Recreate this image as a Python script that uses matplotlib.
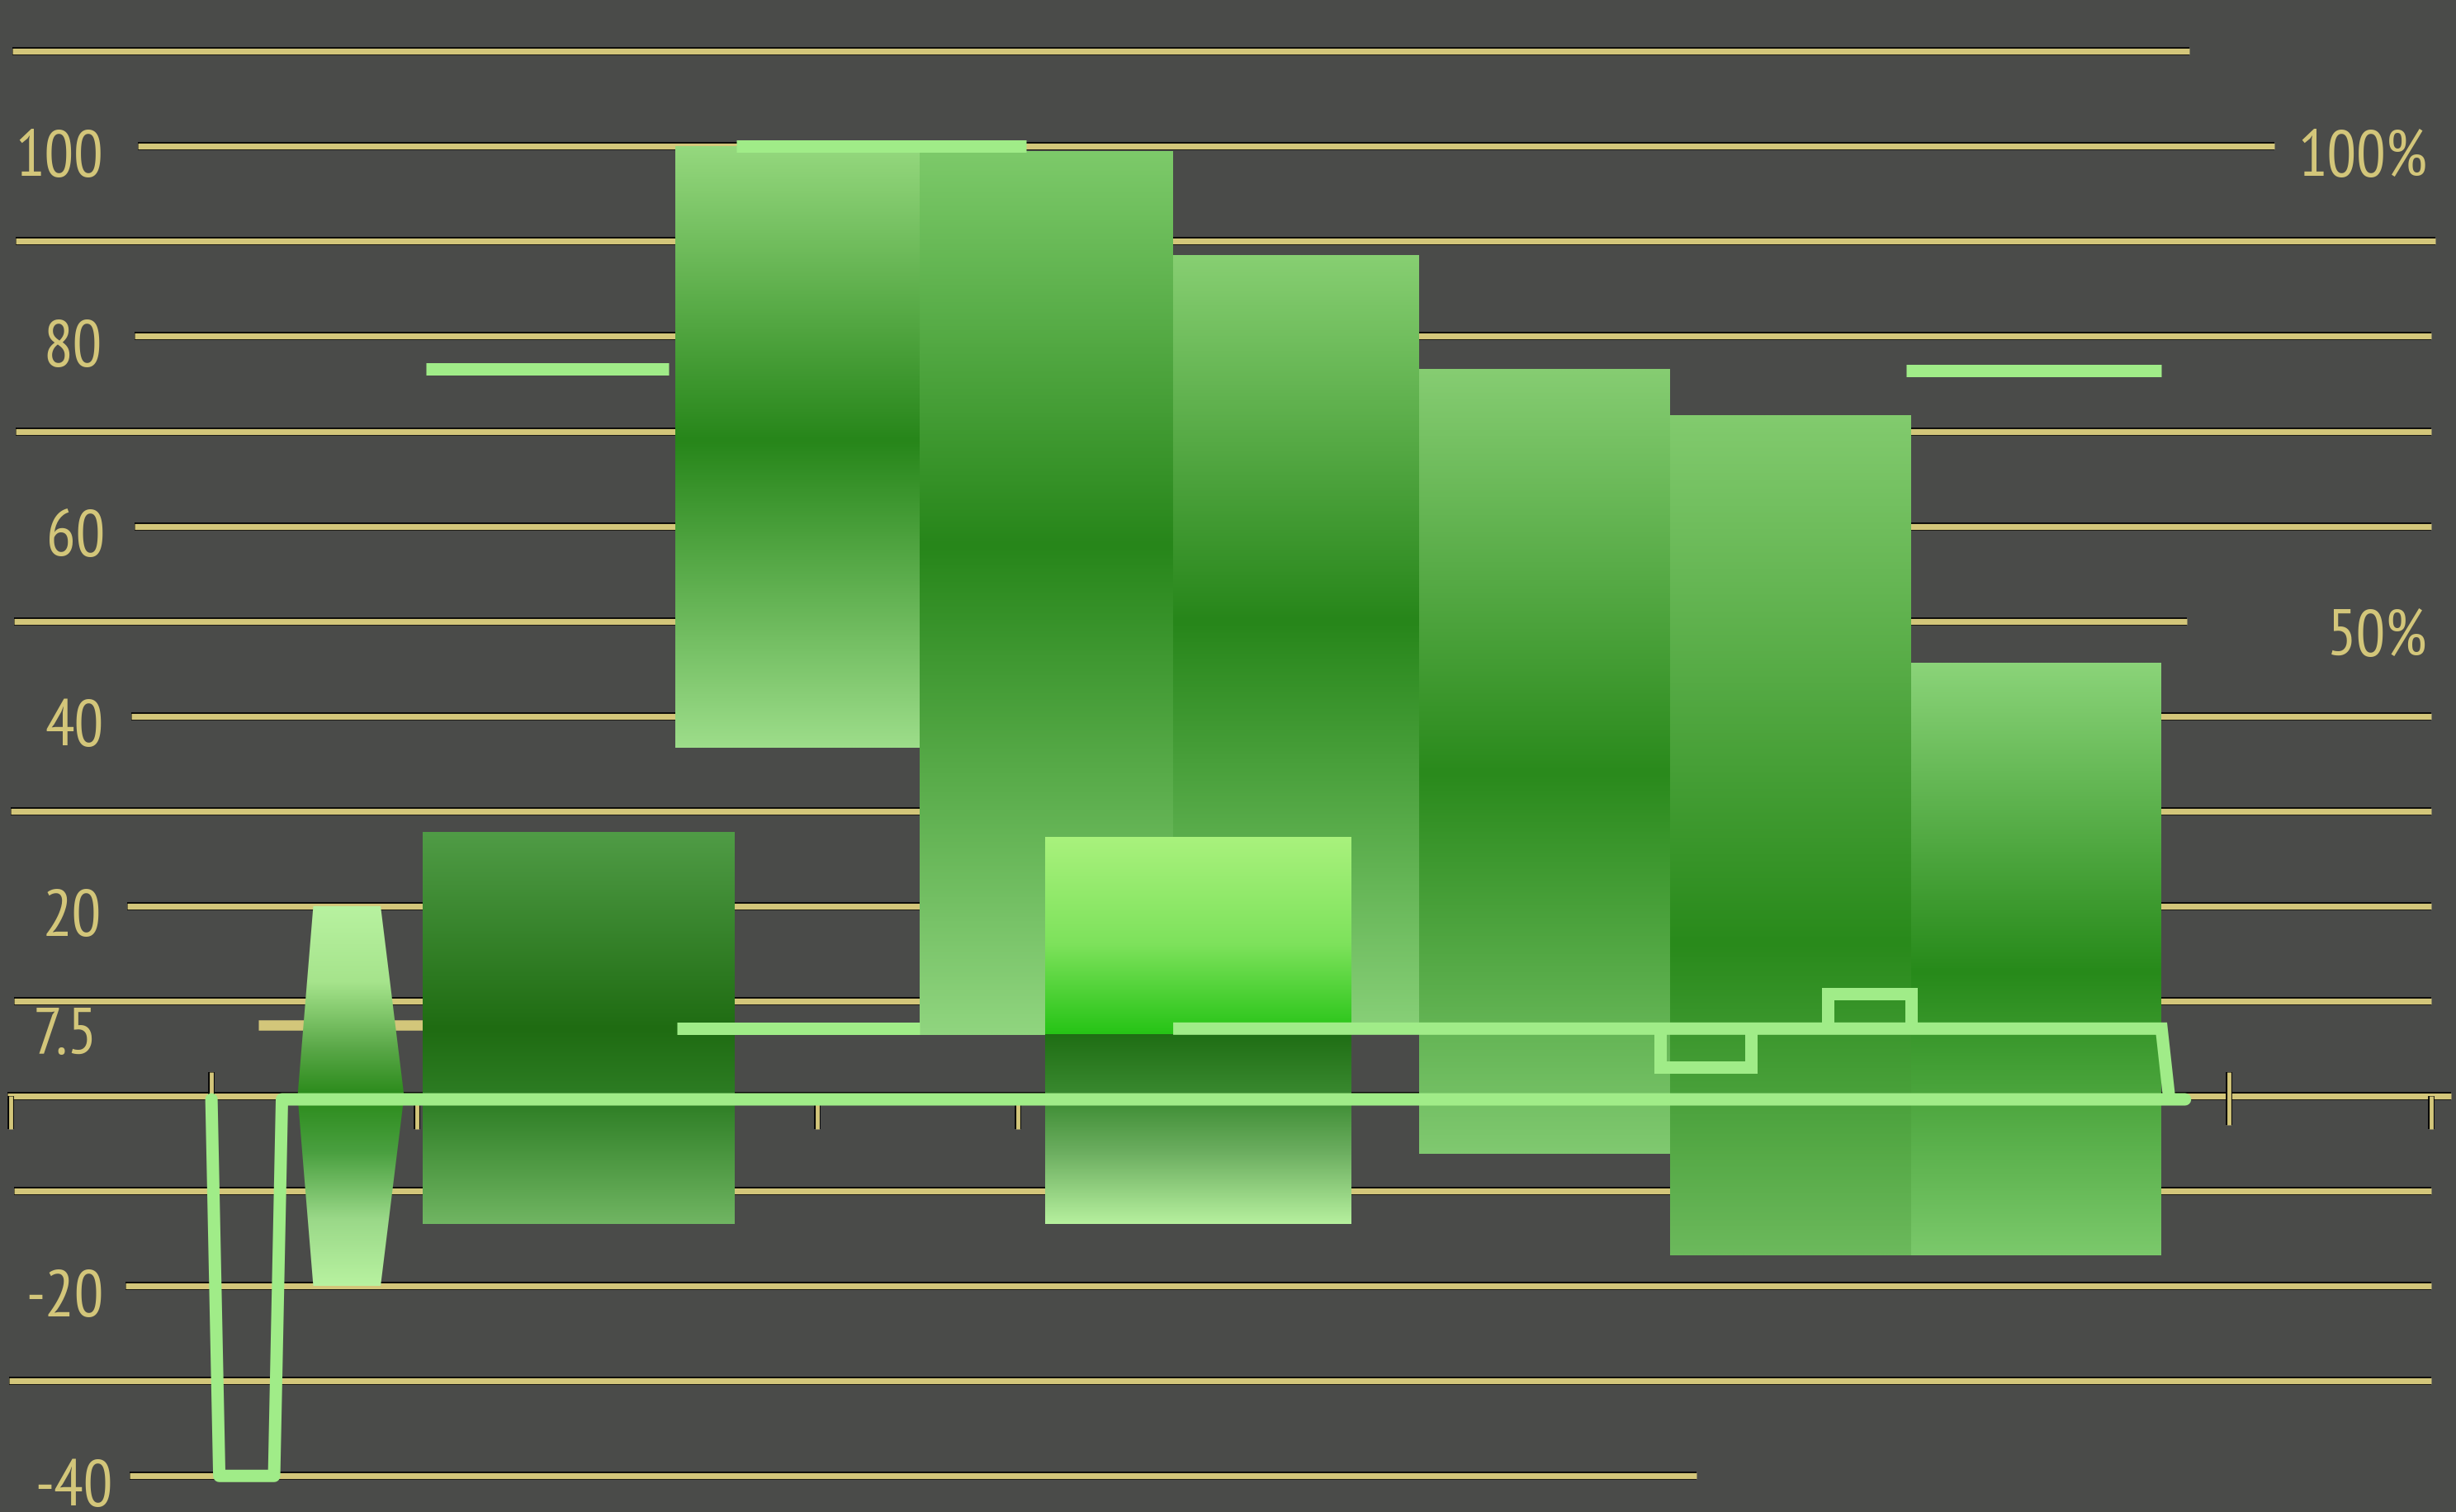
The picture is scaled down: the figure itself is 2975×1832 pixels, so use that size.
import matplotlib
matplotlib.use("Agg")
import matplotlib.pyplot as plt
import numpy as np
from matplotlib.colors import LinearSegmentedColormap, to_rgb
from matplotlib.patches import Polygon
import matplotlib.patheffects as pe

# ---------------- data ----------------
grid_values = [110, 100, 90, 80, 70, 60, 50, 40, 30, 20, 10, 0, -10, -20, -30, -40]
grid_start = [0.08, 0.88, 0.10, 0.86, 0.10, 0.86, 0.09, 0.84, 0.07, 0.81, 0.09, 0.05, 0.09, 0.80, 0.06, 0.83]
grid_end = [13.98, 14.52, 15.55, 15.52, 15.52, 15.52, 13.96, 15.52, 15.52, 15.52, 15.52, 15.65, 15.52, 15.52, 15.52, 10.83]

left_labels = ["100", "80", "60", "40", "20", "7.5", "-20", "-40"]
left_label_values = [100, 80, 60, 40, 20, 7.5, -20, -40]
left_label_right = [0.66, 0.65, 0.67, 0.66, 0.65, 0.62, 0.66, 0.72]
right_labels = ["100%", "50%"]
right_label_values = [100, 49.5]

# bars: left, right, top, bottom
bar_left = [2.70, 4.31, 5.87, 7.49, 9.06, 10.66, 12.20]
bar_right = [4.69, 5.87, 7.49, 9.06, 10.66, 12.20, 13.80]
bar_top = [27.8, 100.0, 99.5, 88.6, 76.6, 71.7, 45.6]
bar_bottom = [-13.5, 36.7, 6.4, 7.0, -6.1, -16.8, -16.8]
bar_stops = [
    [(27.8, "#509c46"), (7.0, "#1f6c12"), (-1.0, "#2f7f26"), (-13.5, "#70b562")],
    [(100.0, "#95d87e"), (69.0, "#27861a"), (36.7, "#9ddd8a")],
    [(99.5, "#7dca6a"), (58.0, "#27861a"), (6.4, "#90d57f")],
    [(88.6, "#87cf72"), (50.0, "#27861a"), (7.0, "#88d078")],
    [(76.6, "#86cd72"), (34.0, "#2a8a1c"), (-6.1, "#80c970")],
    [(71.7, "#82cb6e"), (16.0, "#298a1b"), (-16.8, "#6cb95c")],
    [(45.6, "#8bd479"), (13.0, "#278a1a"), (-16.8, "#7bc96b")],
]

# bright overlay bar (two pieces)
bright_left, bright_right = 6.67, 8.63
bright_top, bright_mid, bright_bottom = 27.3, 6.5, -13.5
bright_upper_stops = [(27.3, "#a9f27d"), (16.0, "#7ee25c"), (6.5, "#26c416")]
bright_lower_stops = [(6.5, "#1f6e14"), (0.0, "#3a8a30"), (-6.0, "#6cae60"), (-13.5, "#b6f09e")]

# spindle shape
spindle_x = [2.00, 2.43, 2.58, 2.43, 2.00, 1.90]
spindle_y = [20, 20, 0, -20, -20, 0]
spindle_stops = [(20, "#b8f2a0"), (12, "#a6e48c"), (5, "#5aa848"), (0, "#2a8a1a"),
                 (-6, "#4aa040"), (-13, "#9ad888"), (-20, "#b8f2a0")]

# green lines
main_line_x = [1.35, 1.40, 1.75, 1.80, 13.95]
main_line_y = [-0.35, -40, -40, -0.35, -0.35]
step_a_x = [4.32, 5.87]
step_a_y = [7.1, 7.1]
step_b_x = [7.49, 13.80, 13.85]
step_b_y = [7.1, 7.1, -0.35]
box_x0 = [10.60, 11.67]
box_x1 = [11.18, 12.20]
box_y0 = [7.1, 7.1]
box_y1 = [3.0, 10.8]
short_x0 = [2.72, 4.70, 12.17]
short_x1 = [4.27, 6.55, 13.80]
short_y = [76.6, 100.0, 76.4]

tan_seg_x = [1.65, 2.70]
tan_seg_y = 7.5

tick_x = [0.07, 1.35, 2.66, 5.22, 6.50, 14.23, 15.52]
tick_y0 = [0, 0, 0, 0, 0, -3.0, 0]
tick_y1 = [-3.5, 2.5, -3.5, -3.5, -3.5, 2.5, -3.5]

# ---------------- style ----------------
BG = "#4a4b49"
TAN = "#d3c67a"
LGREEN = "#a0ec88"

fig = plt.figure(figsize=(29.75, 18.33), dpi=100, facecolor=BG)
ax = fig.add_axes([0, 0, 1, 1])
ax.set_facecolor(BG)
ax.axis("off")

outline = [pe.Stroke(linewidth=7.0, foreground="black"), pe.Normal()]

for v, x0, x1 in zip(grid_values, grid_start, grid_end):
    ax.plot([x0, x1], [v, v], color=TAN, lw=5.2, solid_capstyle="butt",
            path_effects=outline, zorder=1)

for x, y0, y1 in zip(tick_x, tick_y0, tick_y1):
    ax.plot([x, x], [y0, y1], color=TAN, lw=3.5, solid_capstyle="butt",
            path_effects=[pe.Stroke(linewidth=5.5, foreground="black"), pe.Normal()], zorder=1.2)

ax.plot(tan_seg_x, [tan_seg_y, tan_seg_y], color=TAN, lw=9, solid_capstyle="butt", zorder=1.1)


def gradient_fill(xs, ys, stops, z):
    ymax, ymin = max(ys), min(ys)
    pos = [(ymax - v) / (ymax - ymin) for v, _ in stops]
    pos[0], pos[-1] = 0.0, 1.0
    cmap = LinearSegmentedColormap.from_list("g", [(p, to_rgb(c)) for p, (_, c) in zip(pos, stops)])
    grad = np.linspace(0, 1, 512).reshape(-1, 1)
    poly = Polygon(list(zip(xs, ys)), closed=True, facecolor="none", edgecolor="none")
    ax.add_patch(poly)
    im = ax.imshow(grad, cmap=cmap, aspect="auto", origin="upper",
                   extent=[min(xs), max(xs), ymin, ymax], zorder=z, interpolation="bilinear")
    im.set_clip_path(poly)


gradient_fill(spindle_x, spindle_y, spindle_stops, 2)
for l, r, t, b, s in zip(bar_left, bar_right, bar_top, bar_bottom, bar_stops):
    gradient_fill([l, r, r, l], [t, t, b, b], s, 2)

gradient_fill([bright_left, bright_right, bright_right, bright_left],
              [bright_top, bright_top, bright_mid, bright_mid], bright_upper_stops, 3)
gradient_fill([bright_left, bright_right, bright_right, bright_left],
              [bright_mid, bright_mid, bright_bottom, bright_bottom], bright_lower_stops, 3)

LW = 10.8
ax.plot(main_line_x, main_line_y, color=LGREEN, lw=LW, solid_joinstyle="round",
        solid_capstyle="round", zorder=5)
ax.plot(step_a_x, step_a_y, color=LGREEN, lw=LW, solid_capstyle="butt", zorder=5)
ax.plot(step_b_x, step_b_y, color=LGREEN, lw=LW, solid_joinstyle="miter",
        solid_capstyle="butt", zorder=5)
for x0, x1, y0, y1 in zip(box_x0, box_x1, box_y0, box_y1):
    ax.plot([x0, x0, x1, x1], [y0, y1, y1, y0], color=LGREEN, lw=LW,
            solid_joinstyle="miter", solid_capstyle="butt", zorder=5)
for x0, x1, y in zip(short_x0, short_x1, short_y):
    ax.plot([x0, x1], [y, y], color=LGREEN, lw=LW, solid_capstyle="butt", zorder=5)

ax.set_xlim(0, 15.68)
ax.set_ylim(-43.8, 115.5)

font = ["PT Sans Narrow", "Roboto Condensed", "Open Sans", "DejaVu Sans"]
for t, v, xr in zip(left_labels, left_label_values, left_label_right):
    ax.text(xr, v - 3.0, t, color=TAN, fontsize=57, family=font, ha="right", va="baseline", zorder=6)
for t, v in zip(right_labels, right_label_values):
    ax.text(15.50, v - 3.0, t, color=TAN, fontsize=57, family=font, ha="right", va="baseline", zorder=6)

fig.savefig("out.png", dpi=100, facecolor=BG)
